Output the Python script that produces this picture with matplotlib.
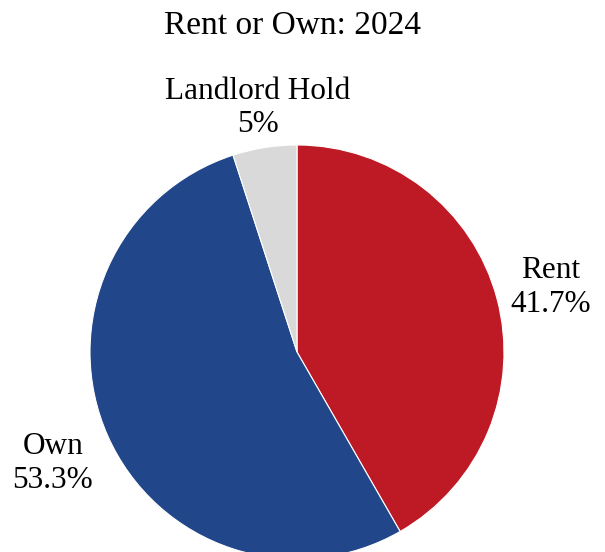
import matplotlib
matplotlib.use("Agg")
import matplotlib.pyplot as plt
import numpy as np

categories = ["Rent", "Own", "Landlord Hold"]
shares = [41.7, 53.3, 5.0]
pct_labels = ["41.7%", "53.3%", "5%"]
colors = ["#BE1A25", "#21468A", "#D9D9D9"]
label_dist = [1.27, 1.29, 1.21]

plt.rcParams['font.family'] = ['Liberation Serif', 'DejaVu Serif']

fig = plt.figure(figsize=(6.05, 5.52), dpi=100)
ax = fig.add_axes([90 / 605, -7 / 552, 414 / 605, 414 / 552])

wedges, texts = ax.pie(shares, colors=colors, startangle=90, counterclock=False,
                       labels=[c + "\n" + p for c, p in zip(categories, pct_labels)],
                       labeldistance=1.25,
                       wedgeprops=dict(edgecolor="white", linewidth=0.8),
                       textprops=dict(fontsize=22.5, color="black"))

# put each label centred on its wedge's middle angle, nudged down a touch
for w, t, d in zip(wedges, texts, label_dist):
    ang = np.deg2rad((w.theta1 + w.theta2) / 2)
    t.set_position((d * np.cos(ang), d * np.sin(ang) - 0.015))
    t.set_ha("center")
    t.set_va("center")
    t.set_clip_on(False)

ax.set_xlim(-1, 1)
ax.set_ylim(-1, 1)
ax.set_aspect("equal")
ax.axis("off")

fig.text(292 / 605, 1 - 26 / 552, "Rent or Own: 2024", ha="center", va="center", fontsize=24)

fig.savefig("out.png", dpi=100)
